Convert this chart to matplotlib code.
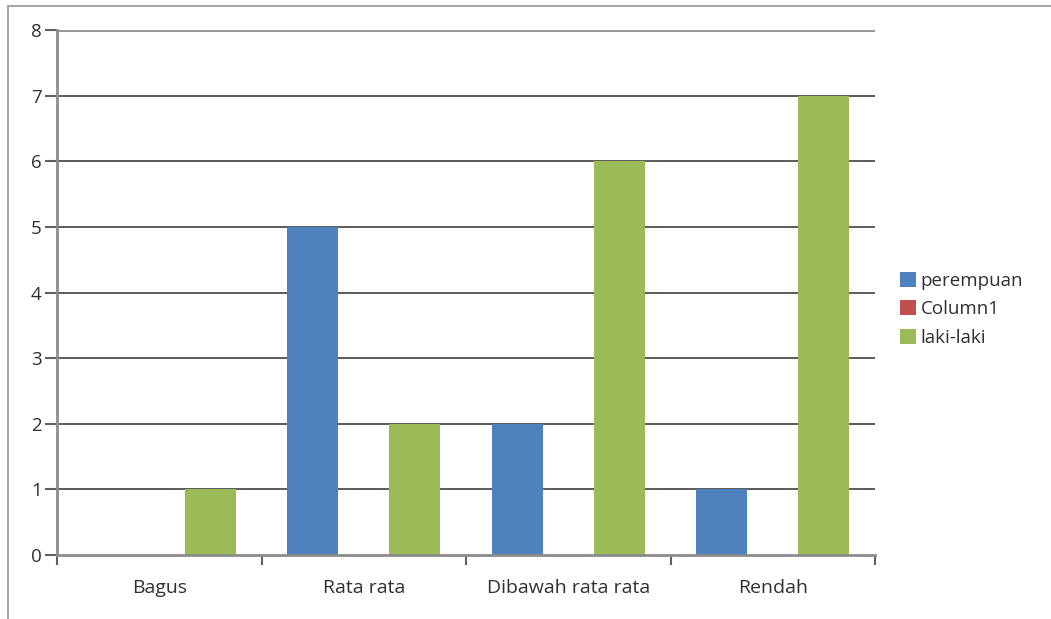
import matplotlib.pyplot as plt
from matplotlib.lines import Line2D
import numpy as np

categories = ['Bagus', 'Rata rata', 'Dibawah rata rata', 'Rendah']
perempuan = [0, 5, 2, 1]
column1 = [0, 0, 0, 0]
laki_laki = [1, 2, 6, 7]

series = [
    ('perempuan', perempuan, '#4F81BD'),
    ('Column1', column1, '#C0504D'),
    ('laki-laki', laki_laki, '#9BBB59'),
]

plt.rcParams['font.family'] = ['Open Sans', 'DejaVu Sans']

fig = plt.figure(figsize=(10.51, 6.19), dpi=100)
ax = fig.add_axes([57 / 1051, 1 - 555 / 619, (875 - 57) / 1051, (555 - 30) / 619])

x = np.arange(len(categories))
width = 0.25
for i, (name, vals, color) in enumerate(series):
    ax.bar(x + (i - 1) * width, vals, width, color=color, label=name, zorder=3)

ax.set_xlim(-0.5, len(categories) - 0.5)
ax.set_ylim(0, 8)
ax.set_yticks(range(0, 9))

# gridlines
for v in range(1, 9):
    ax.axhline(v, color='#999999' if v == 8 else '#404040',
               lw=2.2 if v == 8 else 1.2, zorder=1)

for s in ['top', 'right']:
    ax.spines[s].set_visible(False)
for s in ['left', 'bottom']:
    ax.spines[s].set_color('#8c8c8c')
    ax.spines[s].set_linewidth(2)
ax.spines['bottom'].set_zorder(4)

# category ticks at boundaries
ax.set_xticks(np.arange(-0.5, len(categories)), minor=False)
ax.set_xticklabels([])
ax.set_xticks(x, minor=True)
ax.set_xticklabels(categories, minor=True)
ax.tick_params(axis='x', which='major', length=7, width=1.5, color='#606060', direction='out')
ax.tick_params(axis='x', which='minor', length=0, pad=17, labelsize=14, labelcolor='#303030')
ax.tick_params(axis='y', length=9, width=1.5, color='#606060', labelsize=13.5,
               labelcolor='#303030', pad=2)

leg = fig.legend(loc='upper left', bbox_to_anchor=(900 / 1051, 1 - 272 / 619),
                 frameon=False, fontsize=13.5, handlelength=0.85, handleheight=0.85,
                 handletextpad=0.25, labelspacing=0.55, borderaxespad=0, borderpad=0)
for t in leg.get_texts():
    t.set_color('#303030')

# outer chart border
fig.add_artist(Line2D([8 / 1051, 1], [1 - 6 / 619, 1 - 6 / 619], color='#a8a8a8', lw=1.5,
                      transform=fig.transFigure))
fig.add_artist(Line2D([8 / 1051, 8 / 1051], [0, 1 - 6 / 619], color='#a8a8a8', lw=1.5,
                      transform=fig.transFigure))

fig.savefig('out.png', dpi=100)
